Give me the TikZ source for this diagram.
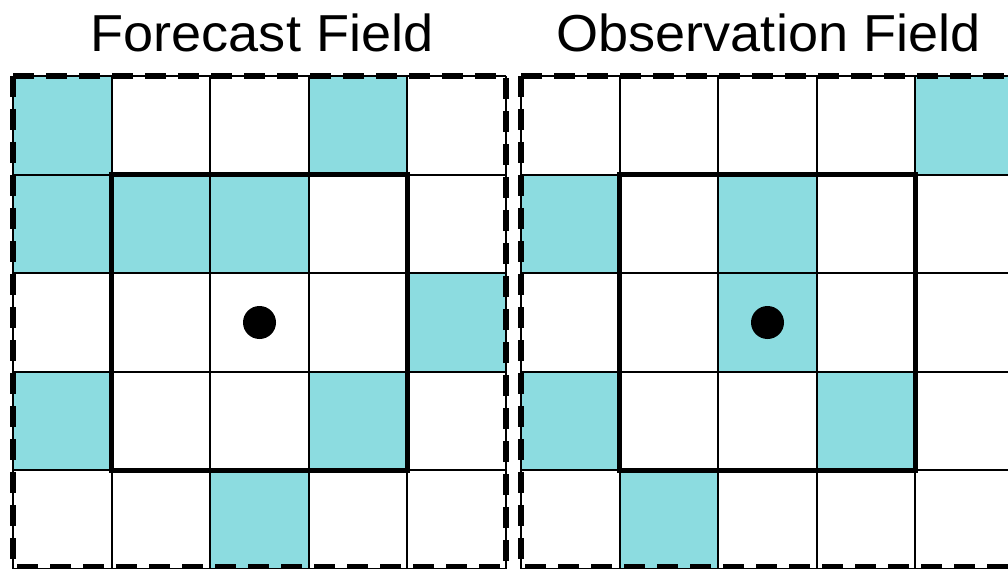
\documentclass[tikz,border=0pt]{standalone}
\usepackage{fontspec}
\setmainfont{Liberation Sans}
\definecolor{cellcyan}{RGB}{140,220,224}
\begin{document}
\begin{tikzpicture}[x=1pt,y=-1pt,
  gridline/.style={line width=1.9pt, line cap=square},
  innerbox/.style={line width=4.8pt},
  outerbox/.style={line width=6.5pt, dash pattern=on 21pt off 12pt},
  centerdot/.style={circle, fill=black, minimum size=33pt, inner sep=0pt},
  title/.style={font=\fontsize{52}{60}\selectfont, anchor=base, inner sep=0pt, xscale=1.04}]
\useasboundingbox (0,0) rectangle (1008,569);
\clip (0,0) rectangle (1008,569);
\def\cs{98.6}
% forecast field fills
\foreach \c/\r in {0/0,3/0,0/1,1/1,2/1,4/2,0/3,3/3,2/4}
  \fill[cellcyan] (13+\c*\cs,76+\r*\cs) rectangle ++(\cs,\cs);
% observation field fills
\foreach \c/\r in {4/0,0/1,2/1,2/2,0/3,3/3,1/4}
  \fill[cellcyan] (521+\c*\cs,76+\r*\cs) rectangle ++(\cs,\cs);
% grid lines
\foreach \ox in {13,521}{
  \foreach \i in {0,...,5}{
    \draw[gridline] (\ox+\i*\cs,76) -- (\ox+\i*\cs,575);
    \draw[gridline] (\ox,76+\i*\cs) -- (\ox+5*\cs,76+\i*\cs);
  }
  \draw[innerbox] (\ox+\cs,76+\cs) rectangle (\ox+4*\cs,76+4*\cs);
  \draw[outerbox] (\ox,76) rectangle (\ox+5*\cs,567);
}
\node[centerdot] (fdot) at (13+2.5*\cs,76+2.5*\cs) {};
\node[centerdot] (odot) at (521+2.5*\cs,76+2.5*\cs) {};
\node[title] (ftitle) at (262,52) {Forecast Field};
\node[title] (otitle) at (768.5,52) {Observation Field};
\end{tikzpicture}
\end{document}
